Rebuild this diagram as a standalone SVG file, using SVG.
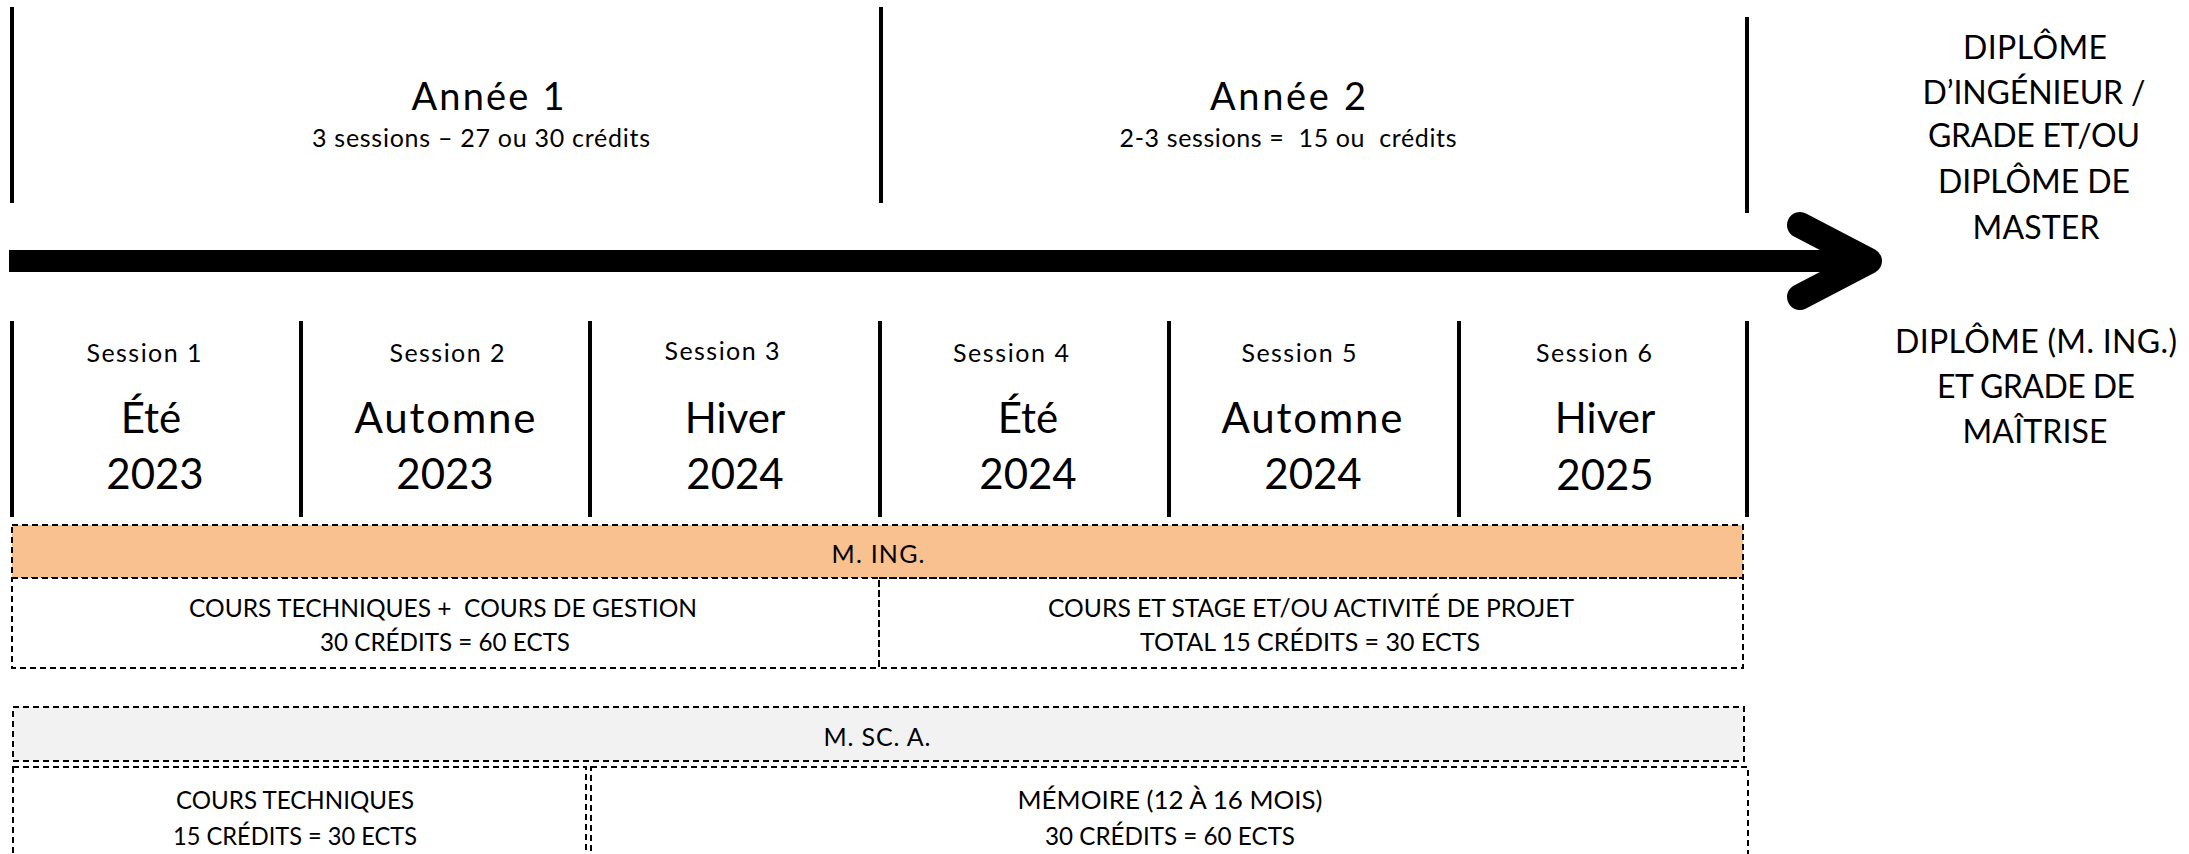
<svg xmlns="http://www.w3.org/2000/svg" width="2189" height="854" viewBox="0 0 2189 854">
<style>
.t{font-family:Lato,"Liberation Sans",sans-serif;fill:#000;text-anchor:middle}
.yr{font-size:38px}
.sub{font-size:25px}
.ses{font-size:25px;font-weight:400}
.big{font-size:42px}
.dip{font-size:32px}
.box{font-size:25px}
.tick{stroke:#000;stroke-width:4;fill:none}
.dash{stroke:#000;stroke-width:2;stroke-dasharray:6 4}
</style>
<rect width="2189" height="854" fill="#fff"/>

<g id="connectors">
  <line x1="9" y1="261" x2="1862" y2="261" stroke="#000" stroke-width="22"/>
  <polyline points="1800,225 1869,261 1800,297" fill="none" stroke="#000" stroke-width="26" stroke-linecap="round" stroke-linejoin="round"/>
  <line class="tick" x1="12" y1="7" x2="12" y2="203"/>
  <line class="tick" x1="881" y1="7" x2="881" y2="203"/>
  <line class="tick" x1="1747" y1="17" x2="1747" y2="213"/>
  <line class="tick" x1="12" y1="321" x2="12" y2="517"/>
  <line class="tick" x1="301" y1="321" x2="301" y2="517"/>
  <line class="tick" x1="590" y1="321" x2="590" y2="517"/>
  <line class="tick" x1="880" y1="321" x2="880" y2="517"/>
  <line class="tick" x1="1169" y1="321" x2="1169" y2="517"/>
  <line class="tick" x1="1459" y1="321" x2="1459" y2="517"/>
  <line class="tick" x1="1747" y1="321" x2="1747" y2="517"/>
</g>

<g id="annee1">
  <text class="t yr" x="488" y="110" textLength="153">Année 1</text>
  <text class="t sub" x="481" y="147" textLength="338">3 sessions – 27 ou 30 crédits</text>
</g>
<g id="annee2">
  <text class="t yr" x="1288" y="110" textLength="156">Année 2</text>
  <text class="t sub" x="1288" y="147" textLength="337">2-3 sessions = &#160;15 ou &#160;crédits</text>
</g>

<g id="session1">
  <text class="t ses" x="144" y="362" textLength="115">Session 1</text>
  <text class="t big" x="151" y="433">Été</text>
  <text class="t big" x="155" y="489">2023</text>
</g>
<g id="session2">
  <text class="t ses" x="447" y="362" textLength="115">Session 2</text>
  <text class="t big" x="445" y="433" textLength="181">Automne</text>
  <text class="t big" x="445" y="489">2023</text>
</g>
<g id="session3">
  <text class="t ses" x="722" y="360" textLength="115">Session 3</text>
  <text class="t big" x="735" y="433">Hiver</text>
  <text class="t big" x="735" y="489">2024</text>
</g>
<g id="session4">
  <text class="t ses" x="1011" y="362" textLength="116">Session 4</text>
  <text class="t big" x="1028" y="433">Été</text>
  <text class="t big" x="1028" y="489">2024</text>
</g>
<g id="session5">
  <text class="t ses" x="1299" y="362" textLength="115">Session 5</text>
  <text class="t big" x="1312" y="433" textLength="181">Automne</text>
  <text class="t big" x="1313" y="489">2024</text>
</g>
<g id="session6">
  <text class="t ses" x="1594" y="362" textLength="116">Session 6</text>
  <text class="t big" x="1605" y="433">Hiver</text>
  <text class="t big" x="1605" y="490">2025</text>
</g>

<g id="diplome-ing">
  <text class="t dip" x="2035" y="59" textLength="144">DIPLÔME</text>
  <text class="t dip" x="2034" y="104" textLength="223">D’INGÉNIEUR /</text>
  <text class="t dip" x="2034" y="147" textLength="212">GRADE ET/OU</text>
  <text class="t dip" x="2034" y="193" textLength="192">DIPLÔME DE</text>
  <text class="t dip" x="2036" y="239" textLength="127">MASTER</text>
</g>
<g id="diplome-msca">
  <text class="t dip" x="2036" y="353" textLength="282">DIPLÔME (M. ING.)</text>
  <text class="t dip" x="2036" y="398" textLength="198">ET GRADE DE</text>
  <text class="t dip" x="2035" y="443" textLength="145">MAÎTRISE</text>
</g>

<g id="ming">
  <rect class="dash" x="12" y="525" width="1731" height="53" fill="#F8C18F"/>
  <text class="t box" x="878" y="563" textLength="93">M. ING.</text>
</g>
<g id="ming-cours">
  <rect class="dash" x="12" y="578" width="867" height="90" fill="#fff"/>
  <text class="t box" x="443" y="617" textLength="508" lengthAdjust="spacingAndGlyphs">COURS TECHNIQUES + &#160;COURS DE GESTION</text>
  <text class="t box" x="445" y="651" textLength="250" lengthAdjust="spacingAndGlyphs">30 CRÉDITS = 60 ECTS</text>
</g>
<g id="ming-stage">
  <rect class="dash" x="879" y="578" width="864" height="90" fill="none"/>
  <text class="t box" x="1311" y="617" textLength="526" lengthAdjust="spacingAndGlyphs">COURS ET STAGE ET/OU ACTIVITÉ DE PROJET</text>
  <text class="t box" x="1310" y="651" textLength="340" lengthAdjust="spacingAndGlyphs">TOTAL 15 CRÉDITS = 30 ECTS</text>
</g>

<g id="msca">
  <rect class="dash" x="13" y="707" width="1731" height="54" fill="#F2F2F2"/>
  <text class="t box" x="877" y="746" textLength="107">M. SC. A.</text>
</g>
<g id="msca-cours">
  <rect class="dash" x="13" y="767" width="573" height="110" fill="#fff"/>
  <text class="t box" x="295" y="809" textLength="238" lengthAdjust="spacingAndGlyphs">COURS TECHNIQUES</text>
  <text class="t box" x="295" y="845" textLength="244" lengthAdjust="spacingAndGlyphs">15 CRÉDITS = 30 ECTS</text>
</g>
<g id="msca-memoire">
  <rect class="dash" x="591" y="767" width="1157" height="110" fill="#fff"/>
  <text class="t box" x="1170" y="809" textLength="305" lengthAdjust="spacingAndGlyphs">MÉMOIRE (12 À 16 MOIS)</text>
  <text class="t box" x="1170" y="845" textLength="250" lengthAdjust="spacingAndGlyphs">30 CRÉDITS = 60 ECTS</text>
</g>
</svg>
